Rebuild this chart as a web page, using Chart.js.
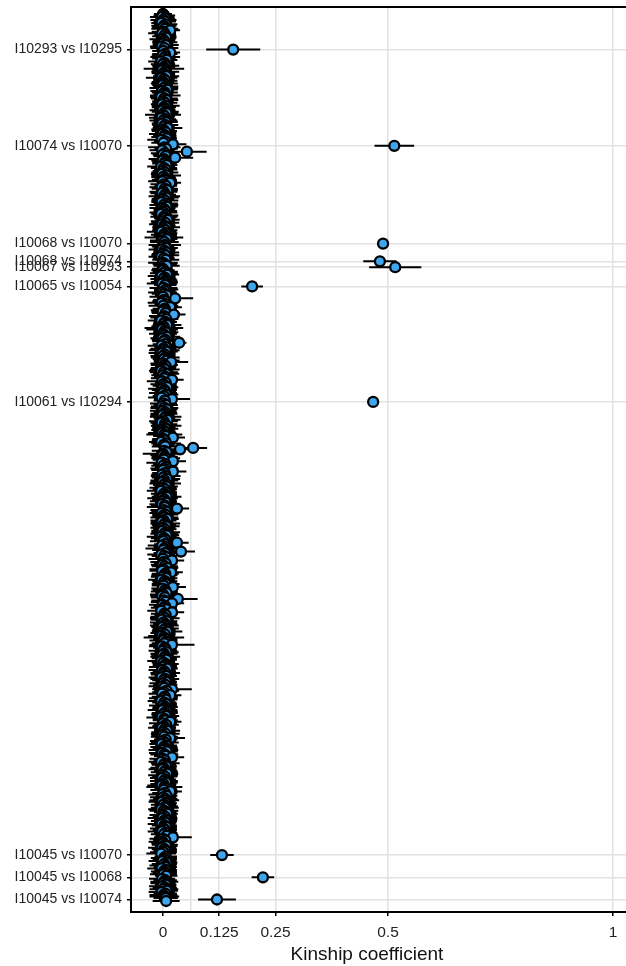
<!DOCTYPE html>
<html><head><meta charset="utf-8">
<script src="https://cdn.jsdelivr.net/npm/chart.js@4.4.1/dist/chart.umd.min.js"></script>
<style>
html,body{margin:0;padding:0;background:#fff;overflow:hidden;width:626px;height:966px}
#wrap{position:absolute;left:0;top:0;width:660px;height:966px}
</style>
</head><body><div id="wrap"><canvas id="c"></canvas></div>
<script>
// Kinship coefficient estimate for each pair (row 0 = top of the plot), 600 pairs
const kinship = [
 0.000,0.003,-0.002,0.005,0.001,0.004,-0.003,0.006,0.002,0.000,0.004,0.016,0.001,-0.002,0.005,0.003,0.007,-0.001,0.002,0.004,
 0.000,0.006,-0.003,0.003,0.156,0.001,0.016,0.004,-0.001,0.005,0.002,0.008,-0.004,0.003,0.000,0.006,0.002,0.002,-0.002,0.005,
 0.001,0.004,0.007,-0.003,0.002,0.005,0.000,0.003,-0.001,0.006,0.002,0.009,-0.002,0.004,0.001,0.005,-0.004,0.003,0.007,0.000,
 0.004,-0.002,0.006,0.002,0.003,-0.001,0.005,0.008,0.000,0.003,-0.003,0.004,0.001,0.006,-0.002,0.005,0.002,0.010,0.000,0.003,
 0.006,-0.001,0.004,0.002,0.008,-0.003,0.005,0.001,0.022,0.514,0.003,0.007,-0.002,0.053,0.004,0.000,0.006,0.027,0.002,-0.001,
 0.005,0.003,0.008,-0.004,0.002,0.006,0.000,0.004,-0.002,0.007,0.001,0.005,0.003,-0.001,0.016,0.002,0.006,-0.003,0.004,0.009,
 0.001,-0.002,0.005,0.003,0.007,0.000,0.004,-0.003,0.006,0.002,0.008,-0.001,0.003,0.005,0.001,-0.004,0.006,0.002,0.004,0.010,
 0.000,0.005,-0.002,0.003,0.007,0.001,0.004,-0.003,0.006,0.002,0.005,0.002,0.008,-0.001,0.003,0.489,0.004,0.000,0.006,-0.002,
 0.003,0.007,0.001,0.005,-0.004,0.002,0.006,0.482,0.000,0.004,0.008,0.516,-0.001,0.000,0.005,0.002,0.009,-0.003,0.004,0.001,
 0.006,0.003,-0.002,0.005,0.198,0.001,0.007,0.004,-0.001,0.003,0.008,0.000,0.027,0.002,0.005,-0.003,0.006,0.001,0.016,0.004,
 0.002,-0.001,0.006,0.024,0.003,0.000,0.007,-0.004,0.005,0.002,0.009,0.001,0.002,-0.002,0.004,0.006,0.000,0.003,0.008,-0.001,
 0.005,0.002,0.036,0.004,-0.003,0.006,0.001,0.003,0.007,-0.002,0.004,0.000,0.005,0.002,0.008,0.018,-0.001,0.003,0.006,0.001,
 0.004,-0.004,0.002,0.007,0.000,0.005,0.003,0.020,-0.002,0.006,0.001,0.004,0.009,-0.001,0.003,0.005,0.000,0.007,0.002,-0.003,
 0.020,0.004,0.467,0.001,0.006,-0.002,0.003,0.008,0.000,0.005,0.002,-0.001,0.006,0.003,0.010,0.001,-0.003,0.004,0.007,0.002,
 0.005,0.000,0.003,-0.002,0.003,0.006,0.022,0.001,0.004,-0.004,0.007,0.002,0.005,0.067,0.038,0.003,0.008,0.000,-0.001,0.004,
 0.006,0.002,0.022,-0.003,0.005,0.001,0.007,0.003,0.000,0.022,0.004,-0.002,0.006,0.001,0.009,0.003,-0.001,0.005,0.002,0.007,
 0.000,0.004,-0.004,0.006,0.002,0.005,0.008,-0.001,0.003,0.001,0.006,-0.002,0.004,0.004,0.031,0.002,0.007,-0.003,0.005,0.000,
 0.003,0.009,0.001,-0.002,0.005,0.002,0.007,0.000,0.004,-0.001,0.006,0.003,0.008,-0.003,0.002,0.005,0.001,0.031,0.004,-0.002,
 0.006,0.003,0.001,0.040,0.005,-0.004,0.003,0.007,0.000,0.020,0.002,0.006,-0.001,0.004,0.009,0.001,-0.002,0.018,0.005,0.003,
 0.000,0.007,-0.003,0.004,0.002,0.006,0.001,0.022,-0.001,0.005,0.003,0.008,0.000,-0.002,0.004,0.033,0.002,0.006,0.020,-0.001,
 0.005,0.002,0.007,-0.004,0.020,0.003,0.006,0.000,0.004,-0.002,0.008,0.001,0.005,0.003,-0.001,0.006,0.002,0.009,0.000,0.004,
 -0.003,0.002,0.005,0.001,0.007,0.003,0.020,-0.002,0.004,0.006,0.000,0.008,0.002,-0.001,0.005,0.003,0.007,-0.004,0.001,0.006,
 0.004,0.000,0.009,-0.002,0.003,0.005,0.001,0.006,-0.003,0.004,0.002,0.007,0.000,0.005,-0.001,0.003,0.020,0.008,0.002,-0.002,
 0.016,0.004,0.001,0.006,-0.004,0.003,0.007,0.000,0.005,0.002,-0.001,0.008,0.004,0.001,0.006,-0.003,0.003,0.005,0.016,0.000,
 0.007,0.002,-0.002,0.004,0.009,0.001,0.005,-0.001,0.003,0.016,0.006,0.000,0.004,-0.003,0.007,0.002,0.005,0.001,0.008,-0.002,
 0.003,0.006,0.020,0.000,0.004,-0.004,0.005,0.002,0.007,0.001,-0.001,0.006,0.003,0.009,0.000,0.004,-0.002,0.005,0.002,0.007,
 0.001,-0.003,0.003,0.006,0.002,0.016,0.004,-0.001,0.008,0.000,0.005,0.003,-0.002,0.006,0.001,0.007,0.004,-0.004,0.002,0.005,
 0.009,0.000,0.004,-0.001,0.006,0.002,0.005,-0.003,0.003,0.007,0.001,0.004,-0.002,0.006,0.002,0.008,0.022,0.000,0.005,-0.001,
 0.000,0.004,0.007,-0.002,0.003,0.005,0.001,-0.004,0.131,0.006,0.002,0.004,-0.001,0.008,0.003,0.000,0.005,-0.003,0.006,0.002,
 0.004,0.001,0.007,0.222,-0.002,0.005,0.003,0.000,0.006,-0.001,0.004,0.002,0.008,-0.003,0.005,0.001,0.003,0.006,0.120,0.007
];
// Half-width of each horizontal error bar
const errHalf = [
 0.020,0.024,0.027,0.022,0.029,0.025,0.023,0.026,0.028,0.024,0.030,0.022,0.026,0.031,0.024,0.027,0.023,0.029,0.025,0.028,
 0.023,0.029,0.026,0.031,0.060,0.025,0.022,0.028,0.024,0.033,0.026,0.024,0.029,0.023,0.027,0.030,0.025,0.045,0.022,0.031,
 0.026,0.023,0.029,0.035,0.024,0.027,0.025,0.030,0.023,0.028,0.032,0.024,0.026,0.029,0.022,0.034,0.025,0.030,0.027,0.024,
 0.028,0.025,0.031,0.027,0.023,0.029,0.030,0.026,0.040,0.024,0.028,0.025,0.031,0.027,0.023,0.029,0.024,0.033,0.026,0.028,
 0.024,0.030,0.026,0.028,0.023,0.032,0.025,0.027,0.030,0.044,0.036,0.026,0.028,0.044,0.031,0.023,0.027,0.040,0.034,0.025,
 0.029,0.027,0.024,0.031,0.029,0.026,0.023,0.030,0.025,0.033,0.027,0.024,0.028,0.032,0.024,0.030,0.025,0.027,0.029,0.024,
 0.031,0.026,0.024,0.035,0.028,0.025,0.030,0.023,0.027,0.032,0.025,0.029,0.024,0.026,0.031,0.022,0.028,0.030,0.024,0.027,
 0.027,0.031,0.029,0.025,0.031,0.024,0.028,0.033,0.026,0.029,0.026,0.043,0.024,0.028,0.032,0.006,0.036,0.025,0.027,0.030,
 0.024,0.029,0.026,0.031,0.028,0.024,0.030,0.037,0.033,0.027,0.029,0.058,0.023,0.026,0.028,0.031,0.027,0.031,0.024,0.029,
 0.026,0.030,0.034,0.025,0.024,0.031,0.027,0.024,0.032,0.028,0.026,0.030,0.040,0.024,0.029,0.031,0.025,0.033,0.026,0.027,
 0.029,0.025,0.031,0.026,0.034,0.028,0.027,0.030,0.026,0.024,0.032,0.027,0.043,0.035,0.025,0.028,0.031,0.024,0.030,0.027,
 0.030,0.026,0.016,0.027,0.031,0.025,0.029,0.034,0.026,0.030,0.024,0.028,0.032,0.025,0.029,0.038,0.027,0.030,0.024,0.028,
 0.033,0.027,0.031,0.029,0.026,0.025,0.030,0.026,0.034,0.024,0.029,0.027,0.025,0.032,0.028,0.024,0.031,0.027,0.025,0.030,
 0.040,0.025,0.006,0.030,0.027,0.025,0.031,0.024,0.029,0.026,0.030,0.027,0.035,0.024,0.029,0.032,0.025,0.028,0.034,0.026,
 0.029,0.026,0.025,0.031,0.040,0.028,0.027,0.025,0.029,0.027,0.033,0.024,0.030,0.031,0.025,0.028,0.023,0.045,0.027,0.029,
 0.032,0.025,0.029,0.034,0.027,0.027,0.025,0.031,0.026,0.030,0.028,0.024,0.033,0.026,0.029,0.031,0.027,0.035,0.024,0.026,
 0.030,0.027,0.032,0.025,0.029,0.026,0.033,0.034,0.027,0.030,0.024,0.028,0.031,0.040,0.027,0.030,0.033,0.027,0.029,0.024,
 0.031,0.026,0.029,0.025,0.033,0.027,0.030,0.028,0.026,0.025,0.032,0.031,0.028,0.033,0.029,0.025,0.030,0.026,0.024,0.032,
 0.027,0.042,0.025,0.031,0.026,0.031,0.028,0.024,0.032,0.027,0.030,0.026,0.026,0.029,0.025,0.031,0.028,0.026,0.030,0.029,
 0.027,0.025,0.030,0.028,0.024,0.031,0.026,0.029,0.025,0.028,0.030,0.025,0.029,0.026,0.031,0.044,0.028,0.033,0.027,0.030,
 0.026,0.029,0.024,0.031,0.027,0.030,0.025,0.028,0.033,0.026,0.024,0.030,0.027,0.032,0.025,0.029,0.026,0.034,0.028,0.024,
 0.030,0.045,0.027,0.031,0.025,0.028,0.050,0.029,0.026,0.024,0.032,0.027,0.030,0.025,0.033,0.028,0.024,0.031,0.026,0.029,
 0.027,0.031,0.024,0.030,0.026,0.033,0.028,0.025,0.029,0.032,0.026,0.024,0.030,0.027,0.031,0.025,0.044,0.028,0.026,0.030,
 0.025,0.029,0.032,0.026,0.030,0.027,0.024,0.031,0.028,0.026,0.033,0.025,0.029,0.027,0.030,0.034,0.026,0.028,0.025,0.031,
 0.028,0.026,0.031,0.024,0.029,0.027,0.032,0.025,0.030,0.033,0.026,0.029,0.031,0.027,0.024,0.030,0.028,0.033,0.025,0.029,
 0.031,0.026,0.027,0.030,0.025,0.028,0.032,0.027,0.024,0.029,0.031,0.026,0.030,0.025,0.033,0.028,0.027,0.024,0.031,0.026,
 0.029,0.032,0.040,0.025,0.030,0.026,0.028,0.031,0.024,0.029,0.027,0.033,0.030,0.025,0.028,0.026,0.031,0.029,0.032,0.025,
 0.024,0.030,0.027,0.033,0.026,0.029,0.025,0.031,0.028,0.024,0.030,0.027,0.032,0.026,0.029,0.025,0.042,0.030,0.027,0.031,
 0.026,0.029,0.025,0.031,0.028,0.026,0.030,0.033,0.026,0.025,0.029,0.027,0.031,0.024,0.028,0.030,0.026,0.032,0.025,0.029,
 0.027,0.030,0.025,0.025,0.029,0.026,0.031,0.028,0.024,0.030,0.027,0.032,0.025,0.029,0.026,0.031,0.033,0.027,0.042,0.030
];
// Rows that carry a pair label on the y axis, and their labels
const labeledRows = [24, 89, 155, 167, 171, 184, 262, 568, 583, 598];
const labeledPairs = [
 'I10293 vs I10295','I10074 vs I10070','I10068 vs I10070','I10068 vs I10074','I10067 vs I10293',
 'I10065 vs I10054','I10061 vs I10294','I10045 vs I10070','I10045 vs I10068','I10045 vs I10074'
];
const xTicks = [0, 0.0625, 0.125, 0.25, 0.5, 1];
const xTickLabels = ['0', '', '0.125', '0.25', '0.5', '1'];
const xTitleText = 'Kinship coefficient';

const points = kinship.map((v, i) => ({x: v, y: i}));
const bars = [];
kinship.forEach((v, i) => {
  bars.push({x: v - errHalf[i], y: i}, {x: v + errHalf[i], y: i}, {x: null, y: null});
});

const framePlugin = {
  id: 'frame',
  afterDatasetsDraw(chart) {
    const {ctx, chartArea: a} = chart;
    ctx.save();
    ctx.strokeStyle = '#000';
    ctx.lineWidth = 2;
    ctx.beginPath();
    ctx.moveTo(a.right + 2, a.top);
    ctx.lineTo(a.left, a.top);
    ctx.lineTo(a.left, a.bottom);
    ctx.lineTo(a.right + 2, a.bottom);
    ctx.stroke();
    ctx.restore();
  }
};
const titlePlugin = {
  id: 'xTitle',
  afterDraw(chart) {
    const {ctx, chartArea: a} = chart;
    ctx.save();
    ctx.fillStyle = '#111';
    ctx.font = '19px "Liberation Sans", Arial, sans-serif';
    ctx.textAlign = 'center';
    ctx.textBaseline = 'middle';
    ctx.fillText(xTitleText, a.left + 236, 955);
    ctx.restore();
  }
};

new Chart(document.getElementById('c'), {
  type: 'scatter',
  data: {
    datasets: [
      {
        label: 'kinship',
        data: points,
        showLine: false,
        pointRadius: 5,
        pointHoverRadius: 5,
        pointBackgroundColor: '#3ea6ef',
        pointBorderColor: '#000',
        pointBorderWidth: 2.3,
        order: 0
      },
      {
        label: 'interval',
        data: bars,
        showLine: true,
        spanGaps: false,
        borderColor: '#000',
        borderWidth: 2,
        borderCapStyle: 'butt',
        pointRadius: 0,
        pointHoverRadius: 0,
        order: 1
      }
    ]
  },
  options: {
    animation: false,
    responsive: true,
    maintainAspectRatio: false,
    events: [],
    layout: {autoPadding: false, padding: {top: 7, left: 0, right: 0, bottom: 0}},
    plugins: {legend: {display: false}, tooltip: {enabled: false}},
    scales: {
      x: {
        type: 'linear',
        min: -0.0711,
        max: 1.1044,
        afterBuildTicks: s => { s.ticks = xTicks.map(v => ({value: v})); },
        afterFit: s => { s.height = 54; s.paddingLeft = 0; s.paddingRight = 0; },
        border: {display: false},
        grid: {
          color: '#e2e2e2',
          lineWidth: 1.5,
          drawTicks: true,
          tickLength: 4,
          tickWidth: 1.5,
          tickColor: c => (xTickLabels[c.index] ? '#000' : 'rgba(0,0,0,0)')
        },
        ticks: {
          autoSkip: false,
          maxRotation: 0,
          padding: 7,
          color: '#222',
          font: {family: '"Liberation Sans", Arial, sans-serif', size: 15.5},
          callback: (v, i) => xTickLabels[i]
        }
      },
      y: {
        type: 'linear',
        reverse: true,
        min: -4.73,
        max: 606.43,
        afterBuildTicks: s => { s.ticks = labeledRows.map(v => ({value: v})); },
        afterFit: s => { s.width = 131; s.paddingTop = 0; s.paddingBottom = 0; },
        border: {display: false},
        grid: {
          color: '#e2e2e2',
          lineWidth: 1.5,
          drawTicks: true,
          tickLength: 4,
          tickWidth: 1.5,
          tickColor: '#000'
        },
        ticks: {
          autoSkip: false,
          padding: 5,
          color: '#222',
          font: {family: '"Liberation Sans", Arial, sans-serif', size: 14},
          callback: (v, i) => labeledPairs[i]
        }
      }
    }
  },
  plugins: [framePlugin, titlePlugin]
});
</script>
</body></html>
